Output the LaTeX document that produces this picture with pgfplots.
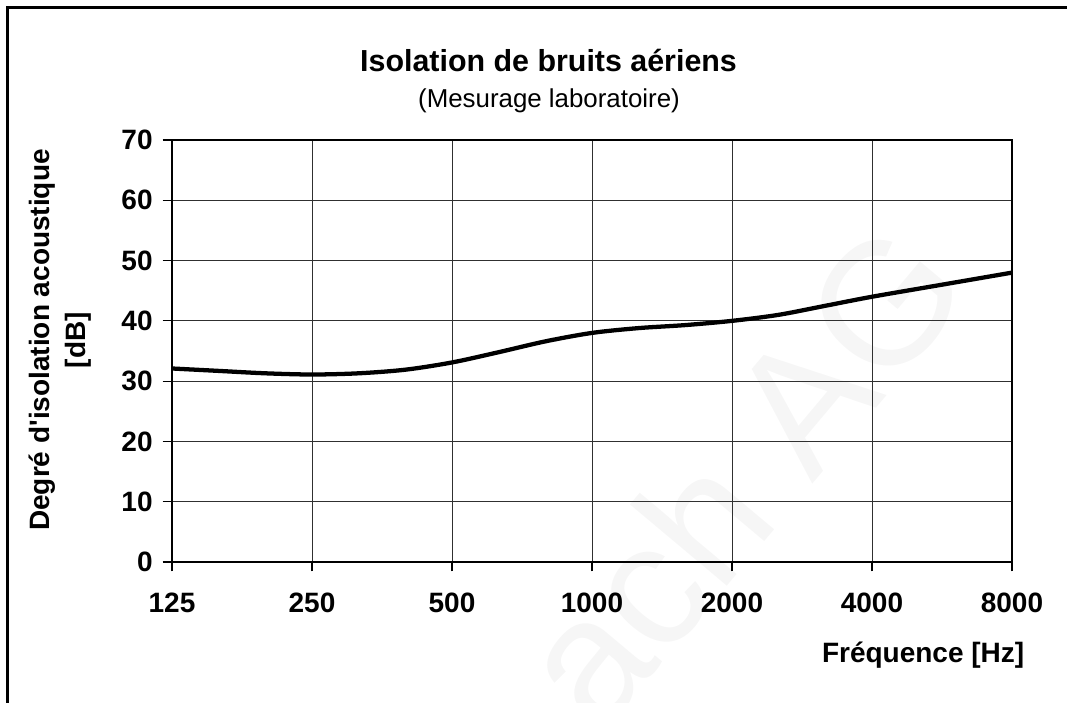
\documentclass[border=0pt]{standalone}
\usepackage{pgfplots}
\pgfplotsset{compat=1.18}
\usepackage{fontspec}
\setmainfont{Liberation Sans}
\definecolor{wm}{HTML}{F6F6F6}
\definecolor{gridc}{HTML}{303030}
\begin{document}
\begin{tikzpicture}
\useasboundingbox (0,0) rectangle (800.25pt,527.25pt);
% watermark
\node[rotate=50, text=wm, font=\fontsize{131}{131}\selectfont, inner sep=0pt] at (555pt,172pt) {ach AG};
% frame
\draw[line width=2.25pt] (5.25pt,0pt) -- (5.25pt,521.25pt) -- (800.25pt,521.25pt);
% titles
\node[anchor=base, font=\fontsize{22.8}{26}\selectfont\bfseries] at (411.4pt,473.25pt) {Isolation de bruits aériens};
\node[anchor=base, font=\fontsize{19.4}{22}\selectfont] at (411.75pt,446.25pt) {(Mesurage laboratoire)};
\begin{axis}[
  at={(129pt,105.75pt)}, anchor=south west,
  scale only axis, width=630pt, height=316.5pt,
  xmin=0, xmax=6, ymin=0, ymax=70,
  xtick={0,1,2,3,4,5,6},
  xticklabels={125,250,500,1000,2000,4000,8000},
  ytick={0,10,...,70},
  xtick pos=bottom, ytick pos=left,
  tick align=outside,
  major tick length=7pt,
  tick style={black, line width=0.9pt},
  grid=major,
  major grid style={gridc, line width=0.75pt},
  axis line style={black, line width=1.8pt},
  /pgf/number format/assume math mode=true,
  ticklabel style={font=\fontsize{21}{21}\selectfont\bfseries},
  xticklabel style={yshift=-13pt},
  yticklabel style={xshift=-4pt},
  xlabel={Fréquence [Hz]},
  xlabel style={at={(axis description cs:1.0202,-0.2204)}, anchor=east, font=\fontsize{21}{21}\selectfont\bfseries},
  ylabel={Degré d\textquotesingle isolation acoustique\\{[dB]}},
  ylabel style={at={(axis description cs:-0.1333,0.526)}, anchor=center, align=center, font=\fontsize{21}{27}\selectfont\bfseries},
]
\addplot[black, line width=3.2pt, smooth, tension=0.5] coordinates {
(0,32.1) (0.333,31.7) (0.667,31.3) (1,31.1) (1.333,31.3) (1.667,31.9)
(2,33.1) (2.333,34.8) (2.667,36.6) (3,38.0) (3.333,38.8) (3.667,39.3)
(4,40.0) (4.333,41.0) (4.667,42.5) (5,44.0) (5.5,46.0) (6,48.0)
};
\end{axis}
\end{tikzpicture}
\end{document}
